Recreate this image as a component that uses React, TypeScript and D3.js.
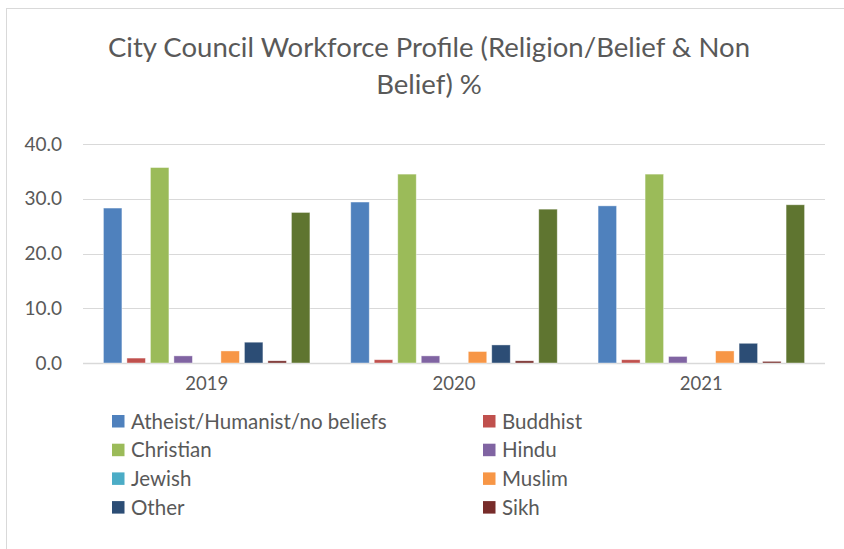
import React from "react";
import * as d3 from "d3";

const years = ["2019", "2020", "2021"];
const seriesNames = [
  "Atheist/Humanist/no beliefs",
  "Buddhist",
  "Christian",
  "Hindu",
  "Jewish",
  "Muslim",
  "Other",
  "Sikh",
  "Prefer not to say",
];
const seriesColors = [
  "#4F81BD",
  "#C0504D",
  "#9BBB59",
  "#8064A2",
  "#4BACC6",
  "#F79646",
  "#2C4D75",
  "#772C2A",
  "#5F7530",
];
// values per series, per year (2019, 2020, 2021)
const atheist = [28.3, 29.4, 28.7];
const buddhist = [0.9, 0.6, 0.6];
const christian = [35.7, 34.5, 34.5];
const hindu = [1.3, 1.3, 1.2];
const jewish = [0.0, 0.0, 0.0];
const muslim = [2.2, 2.1, 2.2];
const other = [3.8, 3.3, 3.6];
const sikh = [0.4, 0.4, 0.3];
const preferNot = [27.5, 28.1, 28.9];
const seriesValues = [atheist, buddhist, christian, hindu, jewish, muslim, other, sikh, preferNot];
const yTicks = [0, 10, 20, 30, 40];
const legendCount = 8;

const FONT = "Lato, 'Open Sans', sans-serif";
const TEXT = "#595959";

export default function App() {
  const W = 844, H = 549;
  const left = 83, right = 825, top = 144, bottom = 363;
  const x0 = d3.scaleBand<string>().domain(years).range([left, right]).paddingInner(0).paddingOuter(0);
  const step = 23.5;
  const groupW = step * seriesNames.length;
  const y = d3.scaleLinear().domain([0, 40]).range([bottom, top]);
  const x1 = d3
    .scaleBand<number>()
    .domain(d3.range(seriesNames.length))
    .range([0, groupW])
    .paddingInner(5 / 23.5)
    .paddingOuter(2.5 / 23.5);

  return (
    <svg width={W} height={H} style={{ position: "absolute", left: 0, top: 0, background: "#fff" }}>
      <rect x={6.5} y={8.5} width={900} height={700} fill="#fff" stroke="#d9d9d9" strokeWidth={1} />
      <text textAnchor="middle" fontFamily={FONT} fontSize={27.5} fill={TEXT}>
        <tspan x={429} y={57}>City Council Workforce Profile (Religion/Belief &amp; Non</tspan>
        <tspan x={429} y={94}>Belief) %</tspan>
      </text>
      {yTicks.map((t) => (
        <g key={t}>
          <line x1={left} x2={right} y1={Math.round(y(t)) + 0.5} y2={Math.round(y(t)) + 0.5} stroke="#d9d9d9" strokeWidth={t === 0 ? 1.3 : 1} />
          <text x={62} y={y(t) + 6.5} textAnchor="end" fontFamily={FONT} fontSize={19} fill={TEXT}>
            {d3.format(".1f")(t)}
          </text>
        </g>
      ))}
      {years.map((yr, yi) => {
        const gx = (x0(yr) as number) + (x0.bandwidth() - groupW) / 2;
        return (
          <g key={yr}>
            {seriesValues.map((vals, si) => {
              const v = vals[yi];
              const h = bottom - y(v);
              if (h <= 0) return null;
              return (
                <rect
                  key={si}
                  x={gx + (x1(si) as number)}
                  y={y(v)}
                  width={x1.bandwidth()}
                  height={h}
                  fill={seriesColors[si]}
                  stroke="#ffffff"
                  strokeOpacity={0.5}
                  strokeWidth={0.8}
                />
              );
            })}
            <text x={(x0(yr) as number) + x0.bandwidth() / 2} y={390} textAnchor="middle" fontFamily={FONT} fontSize={18.5} fill={TEXT}>
              {yr}
            </text>
          </g>
        );
      })}
      {seriesNames.slice(0, legendCount).map((name, i) => {
        const col = i % 2;
        const row = Math.floor(i / 2);
        const lx = col === 0 ? 112 : 483;
        const ly = 421 + row * 28.7;
        return (
          <g key={name}>
            <rect x={lx} y={ly - 6} width={12.5} height={12.5} fill={seriesColors[i]} />
            <text x={lx + 19} y={ly + 7.5} fontFamily={FONT} fontSize={20.5} fill={TEXT}>
              {name}
            </text>
          </g>
        );
      })}
    </svg>
  );
}
